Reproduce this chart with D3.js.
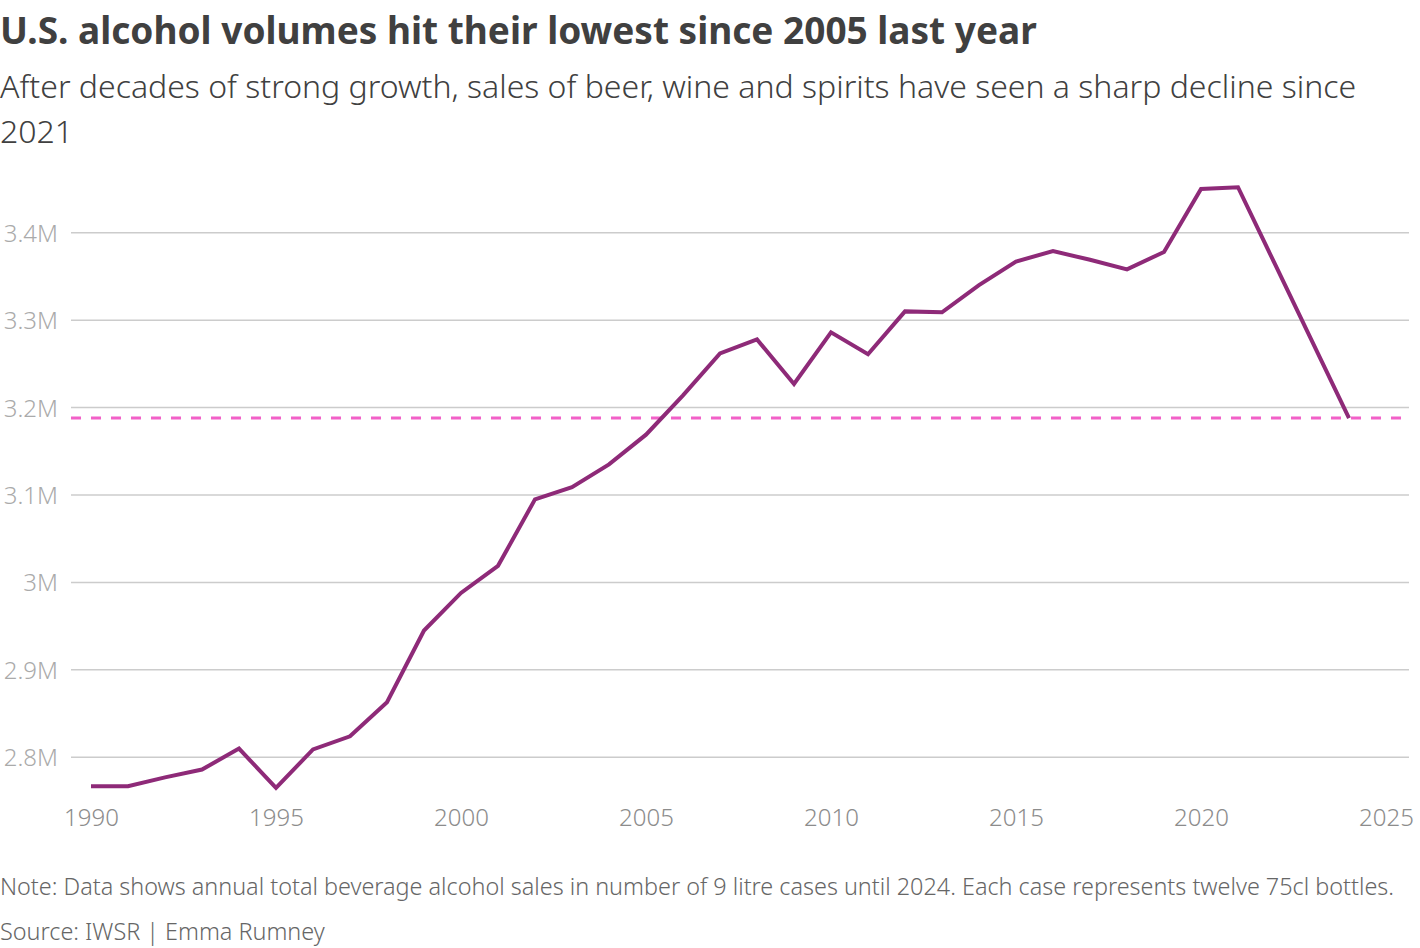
<!DOCTYPE html>
<html>
<head>
<meta charset="utf-8">
<script src="https://cdn.jsdelivr.net/npm/d3@7"></script>
<style>
  body { margin: 0; background: #fff; }
  svg { display: block; font-family: "Noto Sans", sans-serif; }
</style>
</head>
<body>
<script>
// annual total beverage alcohol sales, millions of 9 litre cases
const years = d3.range(1990, 2025);
const volumes = [
  2.767, 2.767, 2.777, 2.786, 2.810, 2.765, 2.809, 2.824, 2.863, 2.945,
  2.988, 3.019, 3.095, 3.109, 3.135, 3.169, 3.214, 3.262, 3.278, 3.227,
  3.286, 3.261, 3.310, 3.309, 3.340, 3.367, 3.379, 3.369, 3.358, 3.378,
  3.450, 3.452, 3.364, 3.276, 3.188
];
const yTicks = [2.8, 2.9, 3.0, 3.1, 3.2, 3.3, 3.4];
const xTicks = [1990, 1995, 2000, 2005, 2010, 2015, 2020, 2025];
const refLevel = 3.188; // 2024 level

const title = "U.S. alcohol volumes hit their lowest since 2005 last year";
const subtitle = ["After decades of strong growth, sales of beer, wine and spirits have seen a sharp decline since", "2021"];
const note = "Note: Data shows annual total beverage alcohol sales in number of 9 litre cases until 2024. Each case represents twelve 75cl bottles.";
const source = "Source: IWSR | Emma Rumney";

const w = 1420, h = 948;
const gridLeft = 71, gridRight = 1409;

const svg = d3.select("body").append("svg")
  .attr("width", w)
  .attr("height", h);

const x = d3.scaleLinear().domain([1990, 2025]).range([91, 1386]);
const y = d3.scaleLinear().domain([2.8, 3.4]).range([757.3, 232.7]);

// titles
svg.append("text")
  .attr("x", 0).attr("y", 44)
  .attr("font-size", 37).attr("font-weight", 700)
  .attr("fill", "#404040")
  .text(title);

svg.selectAll(".sub")
  .data(subtitle)
  .enter().append("text")
  .attr("class", "sub")
  .attr("x", 0)
  .attr("y", (d, i) => 98 + i * 45)
  .attr("font-size", 32).attr("font-weight", 300)
  .attr("fill", "#404040")
  .text(d => d);

// grid
svg.append("g")
  .selectAll("line")
  .data(yTicks)
  .enter().append("line")
  .attr("x1", gridLeft).attr("x2", gridRight)
  .attr("y1", d => y(d)).attr("y2", d => y(d))
  .attr("stroke", "#cccccc")
  .attr("stroke-width", 1.5);

// y labels
svg.append("g")
  .selectAll("text")
  .data(yTicks)
  .enter().append("text")
  .attr("x", 58)
  .attr("y", d => y(d) + 9)
  .attr("text-anchor", "end")
  .attr("font-size", 24).attr("font-weight", 300)
  .attr("fill", "#aaaaaa")
  .text(d => d3.format("~g")(d) + "M");

// x axis
const xAxis = d3.axisBottom(x)
  .tickValues(xTicks)
  .tickFormat(d3.format("d"))
  .tickSize(0)
  .tickPadding(0);

const gx = svg.append("g")
  .attr("transform", "translate(0,800)")
  .call(xAxis);
gx.select(".domain").remove();
gx.selectAll("text")
  .attr("dy", 0)
  .attr("y", 26)
  .attr("font-family", "Noto Sans, sans-serif")
  .attr("font-size", 24).attr("font-weight", 300)
  .attr("fill", "#8c8c8c");

// reference line at last value
svg.append("line")
  .attr("x1", gridLeft).attr("x2", gridRight)
  .attr("y1", y(refLevel)).attr("y2", y(refLevel))
  .attr("stroke", "#f260c8")
  .attr("stroke-width", 3)
  .attr("stroke-dasharray", "10,10");

// volume line
const line = d3.line()
  .x((d, i) => x(years[i]))
  .y(d => y(d));

svg.append("path")
  .datum(volumes)
  .attr("d", line)
  .attr("fill", "none")
  .attr("stroke", "#8e2a78")
  .attr("stroke-width", 4)
  .attr("stroke-linejoin", "miter");

// footer
svg.append("text")
  .attr("x", 0).attr("y", 895)
  .attr("font-size", 23.4).attr("font-weight", 300)
  .attr("fill", "#666666")
  .text(note);

svg.append("text")
  .attr("x", 0).attr("y", 940)
  .attr("font-size", 23.4).attr("font-weight", 300)
  .attr("fill", "#666666")
  .text(source);
</script>
</body>
</html>
